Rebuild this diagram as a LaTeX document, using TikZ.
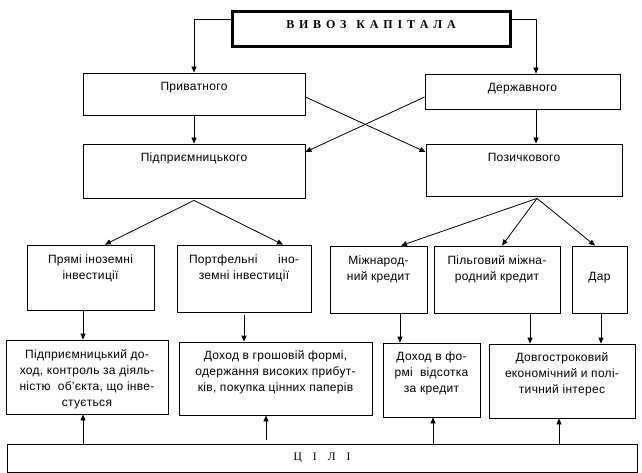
\documentclass[tikz,border=0pt]{standalone}
\usepackage{fontspec}
\setmainfont{Liberation Sans}[LetterSpace=2.5]
\newfontfamily\serifcyr{Liberation Serif}
\usetikzlibrary{arrows.meta,calc}
\begin{document}
\begin{tikzpicture}[x=1pt,y=-1pt,
  box/.style={draw, line width=0.8pt, rectangle, inner sep=0pt},
  txt/.style={anchor=north, inner sep=0pt, align=center, font=\fontsize{12}{16}\selectfont, yshift=-7pt},
  arr/.style={line width=0.8pt, -{Triangle[length=6pt,width=5pt]}},
  ln/.style={line width=0.8pt}]
\useasboundingbox (0,0) rectangle (642,473);
\fill[white] (0,0) rectangle (642,473);
% boxes
\node[box, line width=3pt, minimum width=278pt, minimum height=35pt] (T) at (371,29.5) {};
\node[box, minimum width=222pt, minimum height=42pt] (P) at (194,94) {};
\node[box, minimum width=195pt, minimum height=35pt] (D) at (522.5,91.5) {};
\node[box, minimum width=222pt, minimum height=54pt] (Pid) at (194,171) {};
\node[box, minimum width=196pt, minimum height=52pt] (Poz) at (524,170) {};
\node[box, minimum width=127pt, minimum height=65pt] (R1) at (90.5,277.5) {};
\node[box, minimum width=134pt, minimum height=67pt] (R2) at (244,278.5) {};
\node[box, minimum width=97pt, minimum height=67pt] (R3) at (378.5,279.5) {};
\node[box, minimum width=126pt, minimum height=67pt] (R4) at (497,279.5) {};
\node[box, minimum width=55pt, minimum height=67pt] (R5) at (599.5,279.5) {};
\node[box, minimum width=162pt, minimum height=74pt] (B1) at (87,377) {};
\node[box, minimum width=193pt, minimum height=73pt] (B2) at (275.5,378.5) {};
\node[box, minimum width=97pt, minimum height=74pt] (B3) at (431.5,380) {};
\node[box, minimum width=146pt, minimum height=74pt] (B4) at (562,381) {};
\node[box, minimum width=630pt, minimum height=28pt] (G) at (322,458) {};
% texts
\node[inner sep=0pt, font=\serifcyr\bfseries\fontsize{12}{14}\selectfont] (Tt) at ([yshift=4.5pt]T.center) {В\hspace{4.8pt}И\hspace{4.8pt}В\hspace{4.8pt}О\hspace{4.8pt}З\hspace{10pt}К\hspace{4.8pt}А\hspace{4.8pt}П\hspace{4.8pt}І\hspace{4.8pt}Т\hspace{4.8pt}А\hspace{4.8pt}Л\hspace{4.8pt}А};
\node[txt] (Pt) at (P.north) {\strut Приватного};
\node[txt] (Dt) at (D.north) {\strut Державного};
\node[txt] (Pidt) at (Pid.north) {\strut Підприємницького};
\node[txt] (Pozt) at (Poz.north) {\strut Позичкового};
\node[txt] (R1t) at (R1.north) {\strut Прямі іноземні\\інвестиції};
\node[txt] (R2t) at (R2.north) {\strut\hbox to 110pt{Портфельні\hfill іно-}\\земні інвестиції};
\node[txt] (R3t) at (R3.north) {\strut Міжнарод-\\ний кредит};
\node[txt] (R4t) at (R4.north) {\strut Пільговий міжна-\\родний кредит};
\node[txt, yshift=-16pt] (R5t) at (R5.north) {\strut Дар};
\node[txt] (B1t) at (B1.north) {\strut Підприємницький до-\\ход, контроль за діяль-\\ністю\ \ об'єкта, що інве-\\стується};
\node[txt, yshift=1pt] (B2t) at (B2.north) {\strut Доход в грошовій формі,\\одержання високих прибут-\\ків, покупка цінних паперів};
\node[txt, yshift=1pt] (B3t) at (B3.north) {\strut Доход в фо-\\рмі\ \ відсотка\\за кредит};
\node[txt, yshift=1pt] (B4t) at (B4.north) {\strut Довгостроковий\\економічний и полі-\\тичний інтерес};
\node[inner sep=0pt, font=\serifcyr\fontsize{11.5}{13}\selectfont] (Gt) at (G.center) {Ц\hspace{11pt}І\hspace{11pt}Л\hspace{11pt}І};
% connectors top
\draw[arr] ([yshift=10.5pt]T.west) -| (P.north);
\draw[arr] ([yshift=10.5pt]T.east) -| ([xshift=13.5pt]D.north);
\draw[arr] (P.south) -- (Pid.north);
\draw[arr] ([xshift=13.5pt]D.south) -- ([xshift=13.5pt]D.south |- Poz.north);
\draw[arr] ([yshift=-3pt]P.east) -- ([yshift=18pt]Poz.west);
\draw[arr] ([yshift=-5.5pt]D.west) -- ([yshift=19pt]Pid.east);
% fans
\coordinate (pa) at ([yshift=-2pt]Pid.south);
\draw[arr] (pa) -- ([xshift=14.5pt]R1.north);
\draw[arr] (pa) -- ([xshift=39pt]R2.north);
\coordinate (za) at ([xshift=13pt,yshift=-2pt]Poz.south);
\draw[arr] (za) -- ([xshift=22.5pt]R3.north);
\draw[arr] (za) -- ([xshift=5pt]R4.north);
\draw[arr] (za) -- ([xshift=-4.5pt]R5.north);
% row 3 to row 4
\draw[arr] ([xshift=-7.5pt]R1.south) -- ([xshift=-7.5pt]R1.south |- B1.north);
\draw[arr] ([yshift=-3pt]R2.south) -- (R2.south |- B2.north);
\draw[arr] ([xshift=21.5pt]R3.south) -- ([xshift=21.5pt]R3.south |- B3.north);
\draw[arr] ([xshift=33pt]R4.south) -- ([xshift=33pt]R4.south |- B4.north);
\draw[arr] ([xshift=1.5pt]R5.south) -- ([xshift=1.5pt]R5.south |- B4.north);
% goals up
\draw[arr] ([xshift=-4pt]B1.south |- G.north) -- ([xshift=-4pt]B1.south);
\coordinate (g2) at ([xshift=-9.5pt]B2.south |- G.north);
\draw[arr] ([yshift=4pt]g2) -- ([xshift=-9.5pt]B2.south);
\draw[arr] ([xshift=1.5pt]B3.south |- G.north) -- ([xshift=1.5pt]B3.south);
\draw[arr] ([xshift=-3pt]B4.south |- G.north) -- ([xshift=-3pt]B4.south);
\end{tikzpicture}
\end{document}
